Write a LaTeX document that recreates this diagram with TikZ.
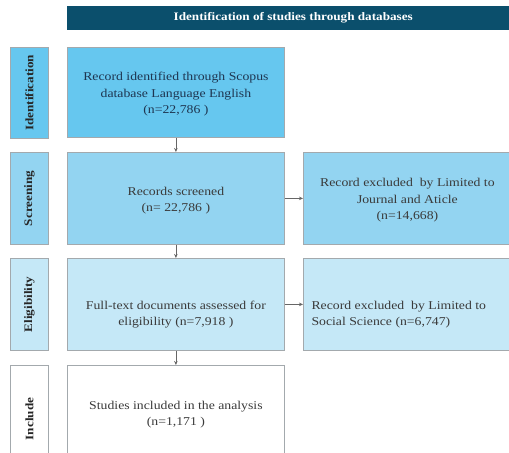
\documentclass[tikz,border=0pt]{standalone}
\usepackage{fontspec}
\setmainfont[FakeStretch=1.15]{Liberation Serif}
\usetikzlibrary{arrows.meta}
\definecolor{hdr}{HTML}{0B4F6C}
\definecolor{cid}{HTML}{66C7EF}
\definecolor{cscr}{HTML}{93D4F1}
\definecolor{celi}{HTML}{C5E8F7}
\definecolor{bord}{HTML}{A3A9AD}
\definecolor{txa}{HTML}{1E3550}
\definecolor{txb}{HTML}{3A3A3A}
\tikzset{
  box/.style={draw=bord, line width=0.8bp, anchor=north west, inner sep=4bp},
  side/.style={draw=bord, line width=0.8bp, anchor=north west, inner sep=0pt,
    minimum width=38bp},
  sidetext/.style={rotate=90, font=\bfseries\fontsize{11.5}{13}\selectfont, text=black!85},
  boxtext/.style={align=center, font=\fontsize{12}{16.5}\selectfont, text=txb},
  arr/.style={-{Stealth[length=4bp,width=3.5bp]}, draw=black!60, line width=0.7bp},
}
\begin{document}
\begin{tikzpicture}[x=1bp,y=-1bp]
\useasboundingbox (0,0) rectangle (509,453);
\fill[white] (0,0) rectangle (509,453);
% header
\node[fill=hdr, anchor=north west, minimum width=452bp, minimum height=24bp, inner sep=0pt,
  text=white, font=\bfseries\fontsize{11.5}{13}\selectfont] (hdr) at (67,6)
  {Identification of studies through databases};
% side labels
\node[side, fill=cid, minimum height=91bp] (sid) at (10,47) {};
\node[sidetext] (sidt) at (sid.center) {Identification};
\node[side, fill=cscr, minimum height=92bp] (sscr) at (10,152) {};
\node[sidetext] (sscrt) at (sscr.center) {Screening};
\node[side, fill=celi, minimum height=92bp] (seli) at (10,258) {};
\node[sidetext] (selit) at (seli.center) {Eligibility};
\node[side, fill=white, minimum height=95bp] (sinc) at (10,365) {};
\node[sidetext] (sinct) at ([yshift=-6bp]sinc.center) {Include};
% main boxes
\node[box, fill=cid, minimum width=217bp, minimum height=90bp] (b1) at (67,47) {};
\node[boxtext, text=txa] (b1t) at ([yshift=-2bp]b1.center)
  {Record identified through Scopus\\ database Language English\\ (n=22,786 )};
\node[box, fill=cscr, minimum width=217bp, minimum height=92bp] (b2) at (67,152) {};
\node[boxtext] (b2t) at ([yshift=-2bp]b2.center)
  {Records screened\\ (n= 22,786 )};
\node[box, fill=cscr, minimum width=212bp, minimum height=92bp] (r2) at (303,152) {};
\node[boxtext] (r2t) at ([xshift=-2bp,yshift=-2bp]r2.center)
  {Record excluded\ \ by Limited to\\ Journal and Aticle\\ (n=14,668)};
\node[box, fill=celi, minimum width=217bp, minimum height=92bp] (b3) at (67,258) {};
\node[boxtext] (b3t) at ([yshift=-10bp]b3.center)
  {Full-text documents assessed for\\ eligibility (n=7,918 )};
\node[box, fill=celi, minimum width=212bp, minimum height=92bp] (r3) at (303,258) {};
\node[boxtext, align=left, anchor=west] (r3t) at ([xshift=5bp,yshift=-10bp]r3.west)
  {Record excluded\ \ by Limited to\\ Social Science (n=6,747)};
\node[box, fill=white, minimum width=217bp, minimum height=95bp] (b4) at (67,365) {};
\node[boxtext] (b4t) at ([yshift=-2bp]b4.center)
  {Studies included in the analysis\\ (n=1,171 )};
% arrows
\draw[arr] (b1.south) -- (b2.north);
\draw[arr] (b2.south) -- (b3.north);
\draw[arr] (b3.south) -- (b4.north);
\draw[arr] (b2.east) -- (r2.west |- b2.east);
\draw[arr] (b3.east) -- (r3.west |- b3.east);
\end{tikzpicture}
\end{document}
